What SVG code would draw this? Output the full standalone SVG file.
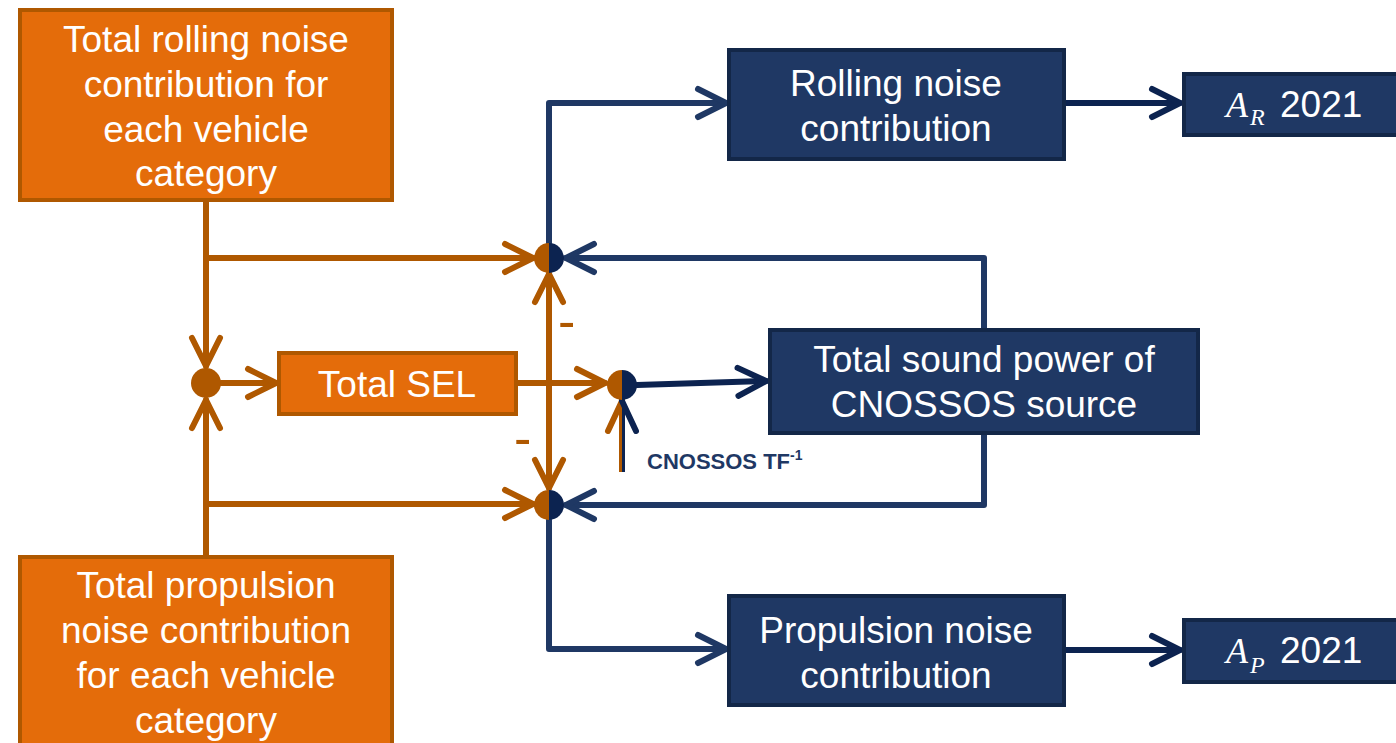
<svg xmlns="http://www.w3.org/2000/svg" width="1396" height="743" viewBox="0 0 1396 743">
<defs>
<style>
.ob{fill:#E46C0A;stroke:#AF5800;stroke-width:4}
.nb{fill:#1F3864;stroke:#132748;stroke-width:4}
.t{font-family:"Liberation Sans",Arial,sans-serif;font-size:37px;fill:#FFFFFF;text-anchor:middle}
.ol{fill:none;stroke:#AF5800;stroke-width:6;stroke-linecap:round;stroke-linejoin:round}
.nl{fill:none;stroke:#1F3864;stroke-width:6;stroke-linecap:round;stroke-linejoin:round}
.dl{fill:none;stroke:#0C2350;stroke-width:6;stroke-linecap:round;stroke-linejoin:round}
.m{font-family:"Liberation Sans",Arial,sans-serif;font-size:52px;fill:#AF5800}
.ser{font-family:"Liberation Serif","Times New Roman",serif;font-style:italic;fill:#FFFFFF}
</style>
<marker id="ao" markerUnits="userSpaceOnUse" viewBox="-34 -20 40 40" markerWidth="40" markerHeight="40" refX="0" refY="0" orient="auto">
<path d="M-28,-14 L0,0 L-28,14" fill="none" stroke="#AF5800" stroke-width="6" stroke-linecap="round" stroke-linejoin="round"/>
</marker>
<marker id="an" markerUnits="userSpaceOnUse" viewBox="-34 -20 40 40" markerWidth="40" markerHeight="40" refX="0" refY="0" orient="auto">
<path d="M-28,-14 L0,0 L-28,14" fill="none" stroke="#1F3864" stroke-width="6" stroke-linecap="round" stroke-linejoin="round"/>
</marker>
<marker id="ad" markerUnits="userSpaceOnUse" viewBox="-34 -20 40 40" markerWidth="40" markerHeight="40" refX="0" refY="0" orient="auto">
<path d="M-28,-14 L0,0 L-28,14" fill="none" stroke="#0C2350" stroke-width="6" stroke-linecap="round" stroke-linejoin="round"/>
</marker>
</defs>
<rect width="1396" height="743" fill="#FFFFFF"/>

<g id="connectors">
<path class="ol" d="M206,201 L206,366" marker-end="url(#ao)"/>
<path class="ol" d="M206,258 L533,258" marker-end="url(#ao)"/>
<path class="ol" d="M206,556 L206,400" marker-end="url(#ao)"/>
<path class="ol" d="M206,504 L533,504" marker-end="url(#ao)"/>
<path class="ol" d="M221,383 L276,383" marker-end="url(#ao)"/>
<path class="ol" d="M517,383 L605,383" marker-end="url(#ao)"/>
<path class="ol" d="M549,380 L549,274" marker-end="url(#ao)"/>
<path class="ol" d="M549,380 L549,488" marker-end="url(#ao)"/>
<g id="tf-arrow">
<rect x="619" y="399" width="3" height="73" fill="#AF5800"/>
<rect x="622" y="399" width="3" height="73" fill="#0C2350"/>
<path d="M608,431 L622,401" fill="none" stroke="#AF5800" stroke-width="6" stroke-linecap="round"/>
<path d="M636,431 L622,401" fill="none" stroke="#0C2350" stroke-width="6" stroke-linecap="round"/>
</g>
<path class="dl" d="M637,385 L766,381" marker-end="url(#ad)"/>
<path class="nl" d="M549,243 L549,103 L726,103" marker-end="url(#an)"/>
<path class="dl" d="M1066,103 L1180,103" marker-end="url(#ad)"/>
<path class="nl" d="M549,520 L549,649 L726,649" marker-end="url(#an)"/>
<path class="dl" d="M1066,650 L1180,650" marker-end="url(#ad)"/>
<path class="nl" d="M984,329 L984,258 L566,258" marker-end="url(#an)"/>
<path class="nl" d="M984,434 L984,505 L566,505" marker-end="url(#an)"/>
<text class="m" x="558" y="339">-</text>
<text class="m" x="514" y="456">-</text>
</g>

<g id="junction-sel">
<circle cx="206" cy="383" r="15" fill="#AF5800"/>
</g>
<g id="junction-rolling">
<path d="M549,243 A15,15 0 0,0 549,273 Z" fill="#AF5800"/>
<path d="M549,243 A15,15 0 0,1 549,273 Z" fill="#0C2350"/>
</g>
<g id="junction-tf">
<path d="M622,370 A15,15 0 0,0 622,400 Z" fill="#AF5800"/>
<path d="M622,370 A15,15 0 0,1 622,400 Z" fill="#0C2350"/>
</g>
<g id="junction-propulsion">
<path d="M549,490 A15,15 0 0,0 549,520 Z" fill="#AF5800"/>
<path d="M549,490 A15,15 0 0,1 549,520 Z" fill="#0C2350"/>
</g>

<g id="rolling-total">
<rect class="ob" x="20" y="10" width="372" height="190"/>
<text class="t" x="206" y="52">Total rolling noise</text>
<text class="t" x="206" y="97">contribution for</text>
<text class="t" x="206" y="142">each vehicle</text>
<text class="t" x="206" y="186">category</text>
</g>

<g id="propulsion-total">
<rect class="ob" x="20" y="557" width="372" height="200"/>
<text class="t" x="206" y="598">Total propulsion</text>
<text class="t" x="206" y="643">noise contribution</text>
<text class="t" x="206" y="688">for each vehicle</text>
<text class="t" x="206" y="733">category</text>
</g>

<g id="total-sel">
<rect class="ob" x="279" y="353" width="237" height="61"/>
<text class="t" x="397" y="397">Total SEL</text>
</g>

<g id="tf-label">
<text x="647" y="469" font-family="Liberation Sans,Arial,sans-serif" font-weight="bold" font-size="22" fill="#1F3864">CNOSSOS TF<tspan font-size="14" dy="-9">-1</tspan></text>
</g>

<g id="rolling-contribution">
<rect class="nb" x="729" y="50" width="335" height="109"/>
<text class="t" x="896" y="96">Rolling noise</text>
<text class="t" x="896" y="141">contribution</text>
</g>

<g id="total-sound-power">
<rect class="nb" x="770" y="330" width="428" height="103"/>
<text class="t" x="984" y="372">Total sound power of</text>
<text class="t" x="984" y="417">CNOSSOS source</text>
</g>

<g id="propulsion-contribution">
<rect class="nb" x="729" y="596" width="335" height="109"/>
<text class="t" x="896" y="643">Propulsion noise</text>
<text class="t" x="896" y="688">contribution</text>
</g>

<g id="ar-2021">
<rect class="nb" x="1184" y="74" width="216" height="61"/>
<text x="1226" y="117" class="ser" font-size="36">A</text>
<text x="1250" y="125" class="ser" font-size="24">R</text>
<text x="1280" y="117" font-family="Liberation Sans,Arial,sans-serif" font-size="37" fill="#FFFFFF">2021</text>
</g>

<g id="ap-2021">
<rect class="nb" x="1184" y="620" width="216" height="62"/>
<text x="1226" y="663" class="ser" font-size="36">A</text>
<text x="1250" y="673" class="ser" font-size="24">P</text>
<text x="1280" y="663" font-family="Liberation Sans,Arial,sans-serif" font-size="37" fill="#FFFFFF">2021</text>
</g>
</svg>
